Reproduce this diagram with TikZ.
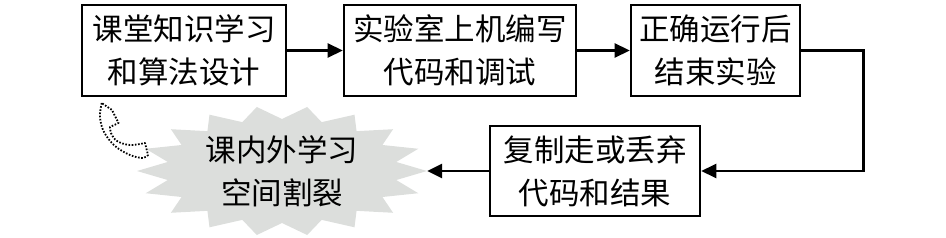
\documentclass[tikz,border=0pt]{standalone}
\usepackage{fontspec}
\setmainfont{Noto Sans CJK SC}
\usepackage{tikz}
\usetikzlibrary{arrows.meta,positioning,backgrounds}
\definecolor{burstgray}{RGB}{220,222,220}
\tikzset{
  stepbox/.style={rectangle,draw=black,line width=2.6pt,minimum height=91pt,inner sep=0pt,align=center,
    font=\fontsize{30.5}{43}\selectfont},
  burst/.style={rectangle,draw=none,minimum width=290pt,minimum height=130pt,inner sep=0pt,align=center,
    font=\fontsize{30.5}{43}\selectfont},
  flow/.style={line width=2.6pt,-{Triangle[length=15pt,width=14pt]}},
  dotarr/.style={line width=1.8pt,dash pattern=on 1.6pt off 1.6pt,line join=round}
}
\begin{document}
\begin{tikzpicture}[x=1pt,y=-1pt]
  \useasboundingbox (0,0) rectangle (946,238);
  \node[stepbox,minimum width=204pt] (study) at (184,50.5) {课堂知识学习\\和算法设计};
  \node[stepbox,minimum width=232pt] (code) at (460,50.5) {实验室上机编写\\代码和调试};
  \node[stepbox,minimum width=169pt] (run) at (715.5,50.5) {正确运行后\\结束实验};
  \node[stepbox,minimum width=210pt,minimum height=90pt] (copy) at (595,171) {复制走或丢弃\\代码和结果};
  \node[burst] (split) at (282,171) {课内外学习\\空间割裂};
  % grey star behind the text
  \begin{scope}[on background layer]
    \fill[burstgray,shift={(split.center)}] (0:145 and 65)
      \foreach \k [evaluate=\k as \r using {mod(\k,2)==0 ? 1 : 0.8}] in {1,...,35} { -- ({\k*10}:{145*\r} and {65*\r}) } -- cycle;
  \end{scope}
  \draw[flow] (study) -- (code);
  \draw[flow] (code) -- (run);
  \draw[flow] (run.east) -- ++(62,0) |- (copy.east);
  \draw[flow] (copy) -- (split.east);
  % dotted return arrow
  \draw[dotarr] plot[smooth,tension=0.6] coordinates {(101.7,103) (100,117) (104,132) (115,146) (130,155) (143,158) (148,155)}
    -- (145,143)
    -- plot[smooth,tension=0.6] coordinates {(145,143) (130,145) (117,141) (111,133) (110,127)}
    -- (118.5,123) -- (112,110) -- cycle;
\end{tikzpicture}
\end{document}
